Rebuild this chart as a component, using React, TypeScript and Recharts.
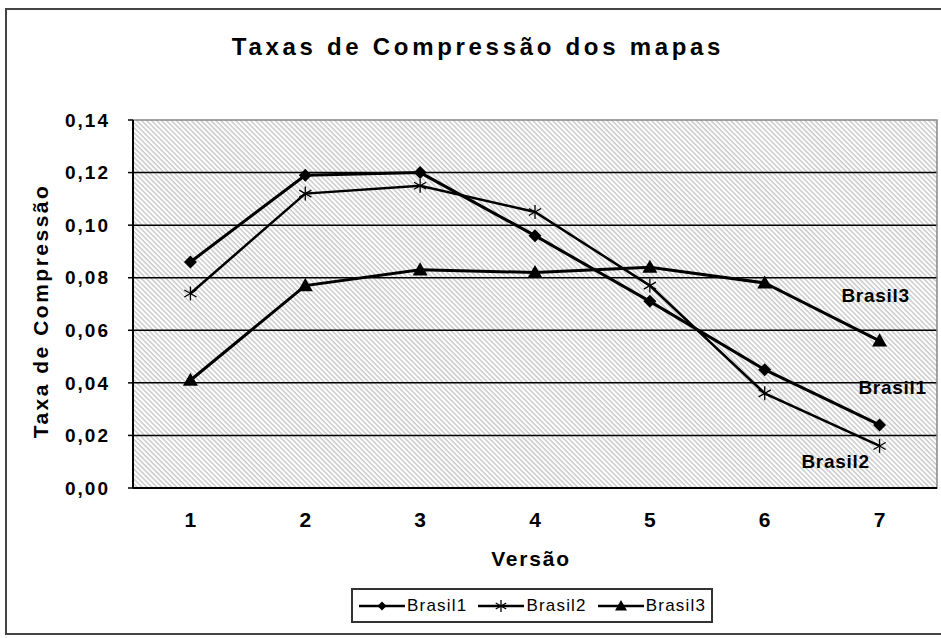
import React from 'react';
import { LineChart, Line, XAxis, YAxis, CartesianGrid, Legend, LabelList, ReferenceArea } from 'recharts';

const versions = [1, 2, 3, 4, 5, 6, 7];
const brasil1 = [0.086, 0.119, 0.12, 0.096, 0.071, 0.045, 0.024];
const brasil2 = [0.074, 0.112, 0.115, 0.105, 0.077, 0.036, 0.016];
const brasil3 = [0.041, 0.077, 0.083, 0.082, 0.084, 0.078, 0.056];
const seriesNames = ['Brasil1', 'Brasil2', 'Brasil3'];
const yTicks = [0, 0.02, 0.04, 0.06, 0.08, 0.1, 0.12, 0.14];
const gridValues = [0.02, 0.04, 0.06, 0.08, 0.1, 0.12];
const boundaryTicks = [0.5, 1.5, 2.5, 3.5, 4.5, 5.5, 6.5, 7.5];
const titleText = 'Taxas de Compressão dos mapas';
const xTitle = 'Versão';
const yTitle = 'Taxa de Compressão';

const data = versions.map((v, i) => ({ versao: v, b1: brasil1[i], b2: brasil2[i], b3: brasil3[i] }));

const FONT = '"Liberation Sans", Arial, sans-serif';

const Diamond = ({ cx, cy, s = 6 }: any) => (
  <path d={`M${cx},${cy - s} L${cx + s},${cy} L${cx},${cy + s} L${cx - s},${cy} Z`} fill="#000" />
);
const Asterisk = ({ cx, cy, s = 7 }: any) => {
  const a = s * 0.87;
  const b = s * 0.5;
  return (
    <g stroke="#000" strokeWidth={1.3}>
      <line x1={cx} y1={cy - s} x2={cx} y2={cy + s} />
      <line x1={cx - a} y1={cy - b} x2={cx + a} y2={cy + b} />
      <line x1={cx - a} y1={cy + b} x2={cx + a} y2={cy - b} />
    </g>
  );
};
const Triangle = ({ cx, cy, s = 7 }: any) => (
  <path d={`M${cx},${cy - s} L${cx + s},${cy + s * 0.75} L${cx - s},${cy + s * 0.75} Z`} fill="#000" />
);

const markers = [Diamond, Asterisk, Triangle];

const endLabel = (name: string, dx: number, dy: number) => (props: any) => {
  if (props.index !== versions.length - 1) return null;
  return (
    <text
      key={name}
      x={props.x + dx}
      y={props.y + dy}
      textAnchor="middle"
      dominantBaseline="central"
      fontFamily={FONT}
      fontWeight="bold"
      fontSize={19}
      letterSpacing={0.7}
      fill="#000"
    >
      {name}
    </text>
  );
};

const LegendContent = () => (
  <div
    style={{
      border: '2px solid #333',
      height: 35,
      display: 'flex',
      alignItems: 'center',
      paddingLeft: 5,
      fontFamily: FONT,
      fontSize: 17,
      letterSpacing: 1.2,
      color: '#000',
      boxSizing: 'border-box',
    }}
  >
    {seriesNames.map((n, i) => {
      const M = markers[i];
      return (
        <div key={n} style={{ display: 'flex', alignItems: 'center', marginRight: 10 }}>
          <svg width={48} height={16}>
            <line x1={1} y1={8} x2={47} y2={8} stroke="#000" strokeWidth={2.5} />
            <M cx={24} cy={8} s={i === 0 ? 4.5 : 6} />
          </svg>
          <span style={{ marginLeft: 1 }}>{n}</span>
        </div>
      );
    })}
  </div>
);

export default function App() {
  return (
    <div
      style={{
        position: 'absolute',
        left: 0,
        top: 0,
        width: 941,
        height: 638,
        overflow: 'hidden',
        background: '#fff',
        fontFamily: FONT,
      }}
    >
      <svg width={0} height={0} style={{ position: 'absolute' }}>
        <defs>
          <pattern id="hatch" patternUnits="userSpaceOnUse" width={3.5} height={3.5} patternTransform="rotate(-45)">
            <rect x={0} y={0} width={3.5} height={3.5} fill="#fff" />
            <line x1={1} y1={0} x2={1} y2={3.5} stroke="#c2c2c2" strokeWidth={1.3} />
          </pattern>
        </defs>
      </svg>
      <div
        style={{
          position: 'absolute',
          left: 5,
          top: 8,
          width: 960,
          height: 627,
          border: '2px solid #444',
          boxSizing: 'border-box',
        }}
      />
      <div
        style={{
          position: 'absolute',
          left: 0,
          top: 33,
          width: 956,
          textAlign: 'center',
          fontSize: 24,
          fontWeight: 'bold',
          letterSpacing: 3.7,
          color: '#000',
        }}
      >
        {titleText}
      </div>
      <div style={{ position: 'absolute', left: 0, top: 0 }}>
        <LineChart width={941} height={638} data={data} margin={{ top: 120, right: 4, bottom: 90, left: 73 }}>
          <CartesianGrid
            xAxisId="v"
            vertical={false}
            horizontalValues={gridValues}
            stroke="#000"
            strokeWidth={1.5}
            fill="url(#hatch)"
            fillOpacity={1}
          />
          <ReferenceArea
            xAxisId="v"
            x1={0.5}
            x2={7.5}
            y1={0}
            y2={0.14}
            fill="none"
            stroke="#888"
            strokeWidth={1.5}
          />
          <XAxis
            xAxisId="b"
            type="number"
            domain={[0.5, 7.5]}
            ticks={boundaryTicks}
            tick={false}
            tickSize={7}
            height={1}
            axisLine={{ stroke: '#000', strokeWidth: 2 }}
            tickLine={{ stroke: '#000', strokeWidth: 1.5 }}
          />
          <XAxis
            xAxisId="v"
            dataKey="versao"
            type="number"
            domain={[0.5, 7.5]}
            ticks={versions}
            tickLine={false}
            axisLine={false}
            height={59}
            tickMargin={17}
            tick={{ fill: '#000', fontSize: 21, fontWeight: 'bold', fontFamily: FONT }}
            label={{
              content: (p: any) => {
                const vb = p.viewBox || {};
                return (
                  <text
                    x={vb.x + vb.width / 2 - 4}
                    y={vb.y + 69}
                    textAnchor="middle"
                    dominantBaseline="central"
                    fontFamily={FONT}
                    fontWeight="bold"
                    fontSize={21}
                    letterSpacing={1.8}
                    fill="#000"
                  >
                    {xTitle}
                  </text>
                );
              },
            }}
          />
          <YAxis
            type="number"
            domain={[0, 0.14]}
            ticks={yTicks}
            width={60}
            tickSize={5}
            tickMargin={18}
            tickFormatter={(v: number) => v.toFixed(2).replace('.', ',')}
            tick={{ fill: '#000', fontSize: 19, fontWeight: 'bold', fontFamily: FONT, letterSpacing: 2 }}
            axisLine={{ stroke: '#000', strokeWidth: 2 }}
            tickLine={{ stroke: '#000', strokeWidth: 1.5 }}
            label={{
              content: (p: any) => {
                const vb = p.viewBox || {};
                const x = vb.x - 33;
                const y = vb.y + vb.height / 2 + 7;
                return (
                  <text
                    x={x}
                    y={y}
                    transform={`rotate(-90, ${x}, ${y})`}
                    textAnchor="middle"
                    dominantBaseline="central"
                    fontFamily={FONT}
                    fontWeight="bold"
                    fontSize={21}
                    letterSpacing={2.5}
                    fill="#000"
                  >
                    {yTitle}
                  </text>
                );
              },
            }}
          />
          <Line
            xAxisId="v"
            dataKey="b1"
            name={seriesNames[0]}
            stroke="#000"
            strokeWidth={3}
            isAnimationActive={false}
            dot={(p: any) => <Diamond key={`d1-${p.index}`} cx={p.cx} cy={p.cy} s={6.5} />}
          >
            <LabelList dataKey="b1" content={endLabel(seriesNames[0], 13, -37)} />
          </Line>
          <Line
            xAxisId="v"
            dataKey="b2"
            name={seriesNames[1]}
            stroke="#000"
            strokeWidth={2.5}
            isAnimationActive={false}
            dot={(p: any) => <Asterisk key={`d2-${p.index}`} cx={p.cx} cy={p.cy} s={7} />}
          >
            <LabelList dataKey="b2" content={endLabel(seriesNames[1], -44, 16)} />
          </Line>
          <Line
            xAxisId="v"
            dataKey="b3"
            name={seriesNames[2]}
            stroke="#000"
            strokeWidth={3}
            isAnimationActive={false}
            dot={(p: any) => <Triangle key={`d3-${p.index}`} cx={p.cx} cy={p.cy} s={7.5} />}
          >
            <LabelList dataKey="b3" content={endLabel(seriesNames[2], -4, -45)} />
          </Line>
          <Legend
            layout="horizontal"
            verticalAlign="middle"
            align="center"
            content={() => <LegendContent />}
            wrapperStyle={{ left: 351, top: 588, width: 362, height: 35 }}
          />
        </LineChart>
      </div>
    </div>
  );
}
